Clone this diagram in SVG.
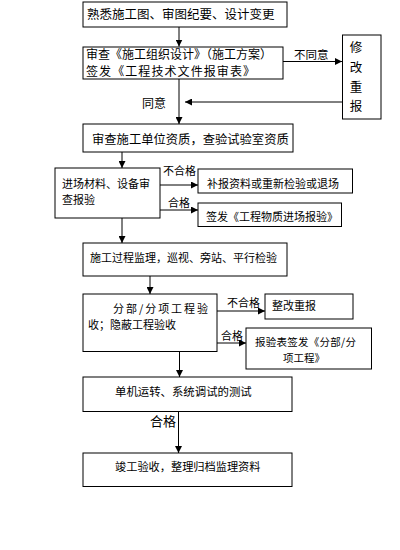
<svg xmlns="http://www.w3.org/2000/svg" width="400" height="550" viewBox="0 0 400 550">
<defs>
<style>
.box{fill:#fff;stroke:#000;stroke-width:1}
.ln{fill:none;stroke:#000;stroke-width:1}
text{font-family:"Noto Sans CJK SC","Noto Sans CJK JP",sans-serif;fill:#000;font-size:11px}
</style>
<marker id="ah" markerUnits="userSpaceOnUse" markerWidth="8" markerHeight="7" refX="7" refY="3.5" orient="auto">
<path d="M0,0 L7,3.5 L0,7 Z" fill="#000"/>
</marker>
</defs>
<rect width="400" height="550" fill="#fff"/>
<g id="connectors">
<line class="ln" x1="179" y1="27" x2="179" y2="46.5" marker-end="url(#ah)"/>
<line class="ln" x1="283" y1="61.5" x2="342" y2="61.5" marker-end="url(#ah)"/>
<line class="ln" x1="342.5" y1="102" x2="185" y2="102" marker-end="url(#ah)"/>
<line class="ln" x1="179" y1="79" x2="179" y2="124" marker-end="url(#ah)"/>
<line class="ln" x1="122" y1="152" x2="122" y2="168" marker-end="url(#ah)"/>
<line class="ln" x1="160" y1="185" x2="198" y2="185" marker-end="url(#ah)"/>
<line class="ln" x1="160" y1="210" x2="198" y2="210" marker-end="url(#ah)"/>
<line class="ln" x1="122" y1="218" x2="122" y2="243" marker-end="url(#ah)"/>
<line class="ln" x1="150" y1="276" x2="150" y2="294" marker-end="url(#ah)"/>
<line class="ln" x1="217" y1="311" x2="265" y2="311" marker-end="url(#ah)"/>
<line class="ln" x1="217" y1="343" x2="246" y2="343" marker-end="url(#ah)"/>
<line class="ln" x1="179.5" y1="351.5" x2="179.5" y2="377" marker-end="url(#ah)"/>
<line class="ln" x1="178.5" y1="411.5" x2="178.5" y2="453" marker-end="url(#ah)"/>
<text x="294" y="59" style="font-size:11.5px">不同意</text>
<text x="142" y="108" style="font-size:12px">同意</text>
<text x="163" y="175">不合格</text>
<text x="168" y="207">合格</text>
<text x="227" y="307">不合格</text>
<text x="221" y="340">合格</text>
<text x="150" y="426" style="font-size:13px">合格</text>
</g>
<g id="n1">
<rect class="box" x="83" y="2" width="204" height="25"/>
<text x="87" y="19" style="font-size:12.5px">熟悉施工图、审图纪要、设计变更</text>
</g>
<g id="n2">
<rect class="box" x="83" y="47" width="200" height="32"/>
<text x="86" y="59" style="font-size:12px">审查《施工组织设计》（施工方案）</text>
<text x="86" y="76" style="font-size:12px" textLength="169" lengthAdjust="spacing">签发《工程技术文件报审表》</text>
</g>
<g id="n_revise">
<rect class="box" x="342.5" y="35" width="38.5" height="84"/>
<text x="356" y="52" style="font-size:12.5px" text-anchor="middle">修</text>
<text x="356" y="72" style="font-size:12.5px" text-anchor="middle">改</text>
<text x="356" y="92" style="font-size:12.5px" text-anchor="middle">重</text>
<text x="356" y="111" style="font-size:12.5px" text-anchor="middle">报</text>
</g>
<g id="n3">
<rect class="box" x="83" y="124" width="210" height="28"/>
<text x="92" y="144" style="font-size:12.3px">审查施工单位资质，查验试验室资质</text>
</g>
<g id="n4">
<rect class="box" x="55" y="168" width="105" height="50"/>
<text x="62" y="188">进场材料、设备审</text>
<text x="62" y="204">查报验</text>
</g>
<g id="n5">
<rect class="box" x="198" y="169" width="154.5" height="24"/>
<text x="207" y="188">补报资料或重新检验或退场</text>
</g>
<g id="n6">
<rect class="box" x="198" y="203" width="143.5" height="23.5"/>
<text x="206" y="221">签发《工程物质进场报验》</text>
</g>
<g id="n7">
<rect class="box" x="83" y="243" width="204" height="33"/>
<text x="90" y="262">施工过程监理，巡视、旁站、平行检验</text>
</g>
<g id="n8">
<rect class="box" x="83" y="294" width="134" height="57.5"/>
<text x="113" y="313" textLength="95" lengthAdjust="spacing">分部/分项工程验</text>
<text x="88" y="329">收；隐蔽工程验收</text>
</g>
<g id="n9">
<rect class="box" x="265" y="294" width="88" height="25"/>
<text x="272" y="310">整改重报</text>
</g>
<g id="n10">
<rect class="box" x="246" y="328" width="125.5" height="41"/>
<text x="255" y="346" style="font-size:10.5px" textLength="101" lengthAdjust="spacing">报验表签发《分部/分</text>
<text x="283" y="362" style="font-size:10.5px">项工程》</text>
</g>
<g id="n11">
<rect class="box" x="83" y="377" width="209" height="34.5"/>
<text x="115" y="396" style="font-size:11.4px">单机运转、系统调试的测试</text>
</g>
<g id="n12">
<rect class="box" x="83" y="453" width="209" height="33.5"/>
<text x="115" y="471" style="font-size:11.2px">竣工验收，整理归档监理资料</text>
</g>
</svg>
